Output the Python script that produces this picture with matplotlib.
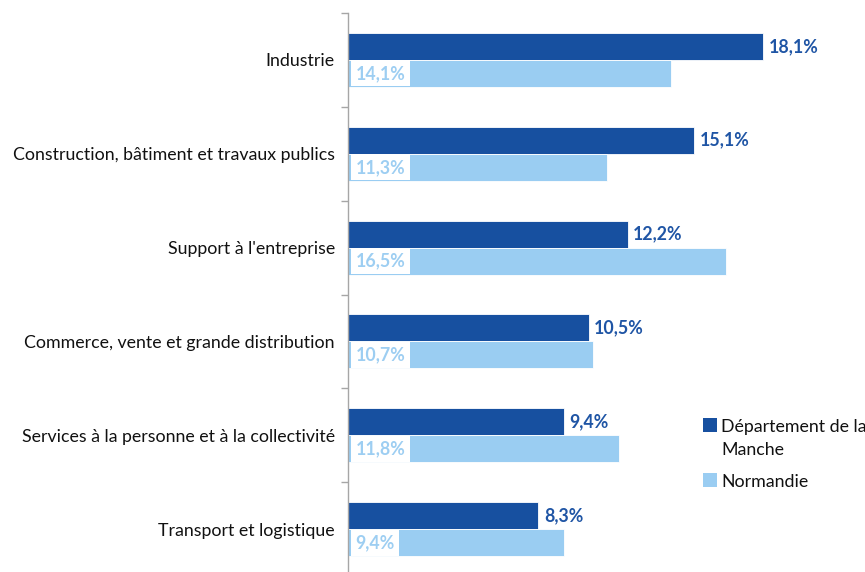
import matplotlib
matplotlib.use("Agg")
import matplotlib.pyplot as plt
from matplotlib.patches import Rectangle
import numpy as np

plt.rcParams['font.family'] = ['Lato', 'DejaVu Sans']

categories = ["Industrie",
              "Construction, bâtiment et travaux publics",
              "Support à l'entreprise",
              "Commerce, vente et grande distribution",
              "Services à la personne et à la collectivité",
              "Transport et logistique"]
manche = [18.1, 15.1, 12.2, 10.5, 9.4, 8.3]
normandie = [14.1, 11.3, 16.5, 10.7, 11.8, 9.4]
series_names = ["Département de la\nManche", "Normandie"]

dark = "#1750A0"
light = "#9ACDF2"
dark_txt = "#1F55A5"
light_txt = "#9DCEF2"

FS = 12.8

W, H = 865, 572
fig = plt.figure(figsize=(W / 100, H / 100), dpi=100)
ax = fig.add_axes([348 / W, -4 / H, 1 - 348 / W, (572 - 13 + 4) / H])

y = np.arange(len(categories))
bh = 0.288
ax.barh(y - bh / 2, manche, height=bh, color=dark, edgecolor="white", linewidth=0.6)
ax.barh(y + bh / 2, normandie, height=bh, color=light, edgecolor="white", linewidth=0.6)

ax.set_xlim(0, 22.55)
ax.set_ylim(len(categories) - 0.5, -0.5)

for yi, v in zip(y, manche):
    ax.annotate(f"{v:.1f}%".replace(".", ","), xy=(v, yi - bh / 2), xytext=(4, 0),
                textcoords="offset points", va="center", ha="left",
                color=dark_txt, fontsize=FS, fontweight="bold")
for yi, v in zip(y, normandie):
    ax.annotate(f"{v:.1f}%".replace(".", ","), xy=(0, yi + bh / 2), xytext=(5.5, 0),
                textcoords="offset points", va="center", ha="left",
                color=light_txt, fontsize=FS, fontweight="bold",
                bbox=dict(boxstyle="square,pad=0.25", facecolor="white", edgecolor="none"))

ax.set_yticks(y)
ax.set_yticklabels(categories, fontsize=FS, color="#111111")
ax.tick_params(axis="y", which="major", length=0, pad=9.5)
ax.set_yticks(np.arange(-0.5, len(categories), 1.0), minor=True)
ax.tick_params(axis="y", which="minor", length=5, color="#A6A6A6", width=1)
ax.set_xticks([])

for s in ["top", "right", "bottom"]:
    ax.spines[s].set_visible(False)
ax.spines["left"].set_color("#A6A6A6")
ax.spines["left"].set_linewidth(1)

# legend drawn manually (pixel layout)
def fx(px):
    return px / W

def fy(py):
    return 1 - py / H

legend_items = [(series_names[0], dark, 418), (series_names[1], light, 473)]
for name, col, top in legend_items:
    fig.patches.append(Rectangle((fx(703), fy(top + 14)), 14 / W, 14 / H,
                                 transform=fig.transFigure, facecolor=col, edgecolor="none"))
    for k, line in enumerate(name.split("\n")):
        fig.text(fx(721), fy(top + 14 + 23 * k), line, fontsize=FS, color="#111111",
                 ha="left", va="baseline")

fig.savefig("out.png", dpi=100)
